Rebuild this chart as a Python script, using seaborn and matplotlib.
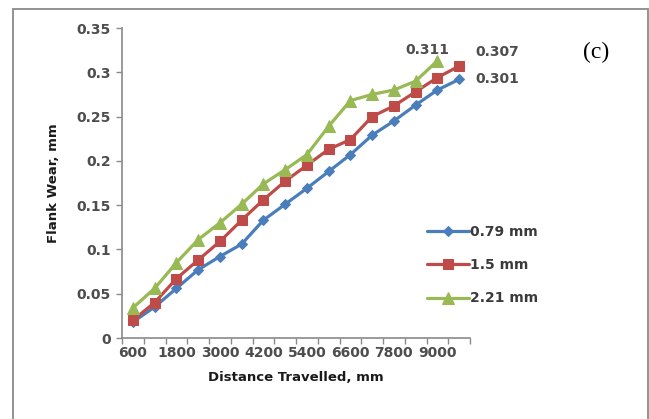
import matplotlib
matplotlib.use("Agg")
import matplotlib.pyplot as plt
from matplotlib.patches import Rectangle
from matplotlib.ticker import FixedLocator
import seaborn as sns
import pandas as pd
import numpy as np

# ---- data ----
distance = [600, 1200, 1800, 2400, 3000, 3600, 4200, 4800, 5400,
            6000, 6600, 7200, 7800, 8400, 9000, 9600]
wear_079 = [0.018, 0.035, 0.056, 0.077, 0.092, 0.106, 0.133, 0.151, 0.169,
            0.188, 0.207, 0.229, 0.245, 0.263, 0.280, 0.292]
wear_150 = [0.020, 0.040, 0.067, 0.088, 0.109, 0.133, 0.156, 0.177, 0.195,
            0.213, 0.224, 0.250, 0.262, 0.278, 0.294, 0.307]
wear_221 = [0.034, 0.056, 0.085, 0.111, 0.130, 0.151, 0.174, 0.190, 0.207,
            0.239, 0.268, 0.275, 0.280, 0.290, 0.313, np.nan]
series_labels = ["0.79 mm", "1.5 mm", "2.21 mm"]
end_labels = ["0.301", "0.307", "0.311"]
xtick_labels = ["600", "1800", "3000", "4200", "5400", "6600", "7800", "9000"]
yticks = [0, 0.05, 0.1, 0.15, 0.2, 0.25, 0.3, 0.35]

sns.set_style("white")
plt.rcParams['font.family'] = ['DejaVu Sans']

W, H = 649, 419
fig = plt.figure(figsize=(W / 100, H / 100), dpi=100)

# outer chart border
fig.patches.append(Rectangle((13 / W, -0.05), (648 - 13) / W, 1.05 - 9 / H,
                             transform=fig.transFigure, fill=False,
                             edgecolor="#8a8a8a", lw=1.3, zorder=0))

ax = fig.add_axes([122 / W, 1 - 338 / H, (470 - 122) / W, (338 - 28) / H])

colors = ["#4A7EBB", "#BE4B48", "#98B954"]
markers = ["D", "s", "^"]
msizes = [5, 7.5, 8.5]
data = [wear_079, wear_150, wear_221]

for vals, lab, c, m, ms in zip(data, series_labels, colors, markers, msizes):
    df = pd.DataFrame({"d": distance, "w": vals}).dropna()
    sns.lineplot(data=df, x="d", y="w", ax=ax, color=c, marker=m,
                 markersize=ms, markeredgecolor=c, linewidth=2.3,
                 label=lab, legend=False)

ax.set_xlim(300, 9900)
ax.set_ylim(0, 0.35)

# x ticks: labels at category centres, tick marks at boundaries
lab_pos = [float(v) for v in xtick_labels]
ax.set_xticks(lab_pos)
ax.set_xticklabels(xtick_labels)
ax.xaxis.set_minor_locator(FixedLocator(np.arange(300, 9901, 600)))
ax.tick_params(axis="x", which="major", length=0, pad=6,
               labelsize=10, labelcolor="#4d4d4d")
ax.tick_params(axis="x", which="minor", length=4, width=1, color="#8a8a8a",
               direction="out", bottom=True)

ax.set_yticks(yticks)
ax.set_yticklabels(["0", "0.05", "0.1", "0.15", "0.2", "0.25", "0.3", "0.35"])
ax.tick_params(axis="y", length=4, width=1, color="#8a8a8a", direction="out",
               left=True, labelsize=10, labelcolor="#4d4d4d", pad=4)
for t in ax.get_xticklabels() + ax.get_yticklabels():
    t.set_fontweight("semibold")

for s in ["top", "right"]:
    ax.spines[s].set_visible(False)
for s in ["left", "bottom"]:
    ax.spines[s].set_color("#8a8a8a")
    ax.spines[s].set_linewidth(1.2)

ax.set_xlabel("Distance Travelled, mm", fontsize=9.5, fontweight="bold",
              color="#1a1a1a", labelpad=8)
ax.set_ylabel("Flank Wear, mm", fontsize=9.5, fontweight="bold",
              color="#1a1a1a", labelpad=12)

# end-value annotations
last_pts = [(distance[15], wear_079[15]), (distance[15], wear_150[15]),
            (distance[14], wear_221[14])]
offsets = [(16, 0), (16, 14), (-10, 11)]
has = ["left", "left", "center"]
for (xp, yp), txt, off, ha in zip(last_pts, end_labels, offsets, has):
    ax.annotate(txt, (xp, yp), xytext=off, textcoords="offset pixels",
                ha=ha, va="center", fontsize=10, fontweight="semibold",
                color="#4d4d4d", annotation_clip=False)

# legend
handles, labels = ax.get_legend_handles_labels()
leg = fig.legend(handles, labels, loc="center left",
                 bbox_to_anchor=(427 / W, 1 - 265 / H), frameon=False,
                 fontsize=10, handlelength=3.0, handletextpad=0.1,
                 labelspacing=1.4, borderpad=0, borderaxespad=0)
for t in leg.get_texts():
    t.set_color("#3a3a3a")
    t.set_fontweight("semibold")

fig.text(596 / W, 1 - 52 / H, "(c)", family="Liberation Serif", fontsize=17,
         ha="center", va="center", color="black")

fig.savefig("out.png", dpi=100)
